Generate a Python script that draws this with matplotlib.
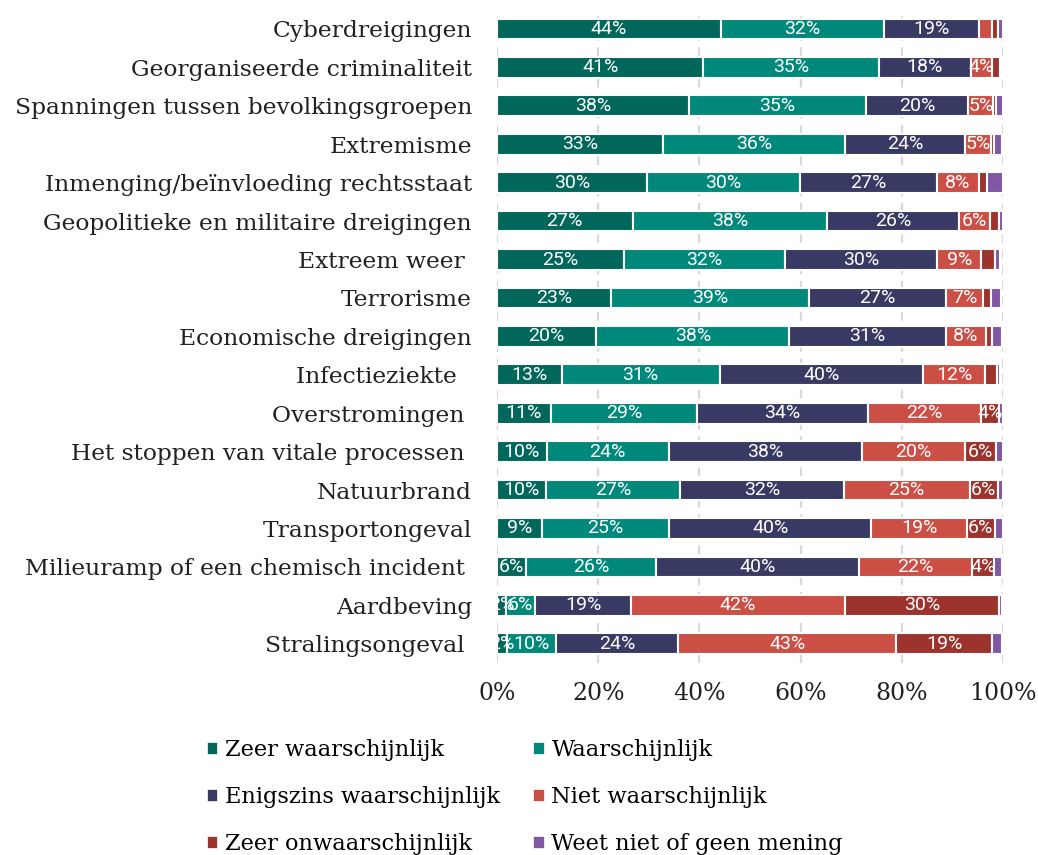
import matplotlib
matplotlib.use("Agg")
import matplotlib.pyplot as plt
from matplotlib.patches import Patch
import numpy as np

categories = [
    "Cyberdreigingen",
    "Georganiseerde criminaliteit",
    "Spanningen tussen bevolkingsgroepen",
    "Extremisme",
    "Inmenging/beïnvloeding rechtsstaat",
    "Geopolitieke en militaire dreigingen",
    "Extreem weer ",
    "Terrorisme",
    "Economische dreigingen",
    "Infectieziekte  ",
    "Overstromingen ",
    "Het stoppen van vitale processen ",
    "Natuurbrand",
    "Transportongeval",
    "Milieuramp of een chemisch incident ",
    "Aardbeving",
    "Stralingsongeval ",
]

series_names = [
    "Zeer waarschijnlijk",
    "Waarschijnlijk",
    "Enigszins waarschijnlijk",
    "Niet waarschijnlijk",
    "Zeer onwaarschijnlijk",
    "Weet niet of geen mening",
]

zeer_waarschijnlijk = [44.2, 40.8, 37.9, 32.8, 29.6, 26.8, 25.0, 22.6, 19.6, 12.8, 10.6, 9.8, 9.6, 8.8, 5.8, 1.8, 1.9]
waarschijnlijk = [32.3, 34.6, 35.0, 36.0, 30.2, 38.4, 32.0, 39.0, 38.2, 31.2, 29.0, 24.1, 26.6, 25.2, 25.6, 5.7, 9.7]
enigszins = [18.7, 18.3, 20.2, 23.6, 27.2, 26.1, 30.0, 27.1, 30.9, 40.2, 33.7, 38.3, 32.3, 40.0, 40.1, 19.0, 24.2]
niet_waarschijnlijk = [2.6, 4.1, 5.0, 5.3, 8.2, 6.1, 8.7, 7.4, 7.9, 12.3, 22.3, 20.2, 24.9, 18.8, 22.4, 42.3, 43.1]
zeer_onwaarschijnlijk = [1.2, 1.6, 0.6, 0.5, 1.6, 1.8, 2.8, 1.6, 1.2, 2.3, 3.6, 6.3, 5.6, 5.6, 4.4, 30.4, 19.0]
weet_niet = [1.0, 0.3, 1.2, 1.6, 3.2, 0.8, 0.9, 1.9, 1.9, 0.7, 0.8, 1.2, 1.0, 1.6, 1.4, 0.5, 1.9]

colors = ["#00675a", "#00897b", "#383a64", "#cc4f46", "#9c332d", "#8156a5"]

series = [zeer_waarschijnlijk, waarschijnlijk, enigszins, niet_waarschijnlijk,
          zeer_onwaarschijnlijk, weet_niet]

serif = ["DejaVu Serif"]
fig = plt.figure(figsize=(10.38, 8.55), dpi=100)
ax = fig.add_axes([0.4788, 0.2246, 0.4875, 0.7640])

y = np.arange(len(categories))
left = np.zeros(len(categories))
for i, (vals, col) in enumerate(zip(series, colors)):
    vals = np.array(vals)
    ax.barh(y, vals, left=left, height=0.54, color=col, edgecolor="white",
            linewidth=1.5, zorder=3)
    for yi, (l, v) in enumerate(zip(left, vals)):
        # small segments carry no label, except the first series
        if v >= 3.5 or i == 0:
            ax.text(l + v / 2, yi, f"{v:.0f}%", ha="center", va="center",
                    color="white", fontsize=14, family="Roboto", zorder=4)
    left = left + vals

ax.set_xlim(0, 100)
ax.set_ylim(len(categories) - 0.5, -0.5)
ax.set_xticks(range(0, 101, 20))
ax.set_xticklabels([f"{t}%" for t in range(0, 101, 20)], family=serif, fontsize=17)
ax.set_yticks(y)
ax.set_yticklabels(categories, family=serif, fontsize=16.8)
ax.tick_params(axis="both", length=0, colors="#222222")
ax.tick_params(axis="x", pad=14)
ax.tick_params(axis="y", pad=18)
for s in ax.spines.values():
    s.set_visible(False)
ax.grid(axis="x", color="#d9d9d9", linestyle=(0, (4, 3)), linewidth=1.6, zorder=0)
ax.set_axisbelow(True)

# legend is filled row by row in the reference
order = [0, 2, 4, 1, 3, 5]
handles = [Patch(facecolor=colors[k], edgecolor="white", linewidth=0.5) for k in order]
labels = [series_names[k] for k in order]
fig.legend(handles, labels, loc="upper left", bbox_to_anchor=(0.199, 0.136),
           ncol=2, frameon=False, prop={"family": serif, "size": 16.2},
           handlelength=0.45, handleheight=0.45, handletextpad=0.35,
           columnspacing=1.5, labelspacing=1.12, borderaxespad=0, borderpad=0)

fig.savefig("out.png", dpi=100, facecolor="white")
